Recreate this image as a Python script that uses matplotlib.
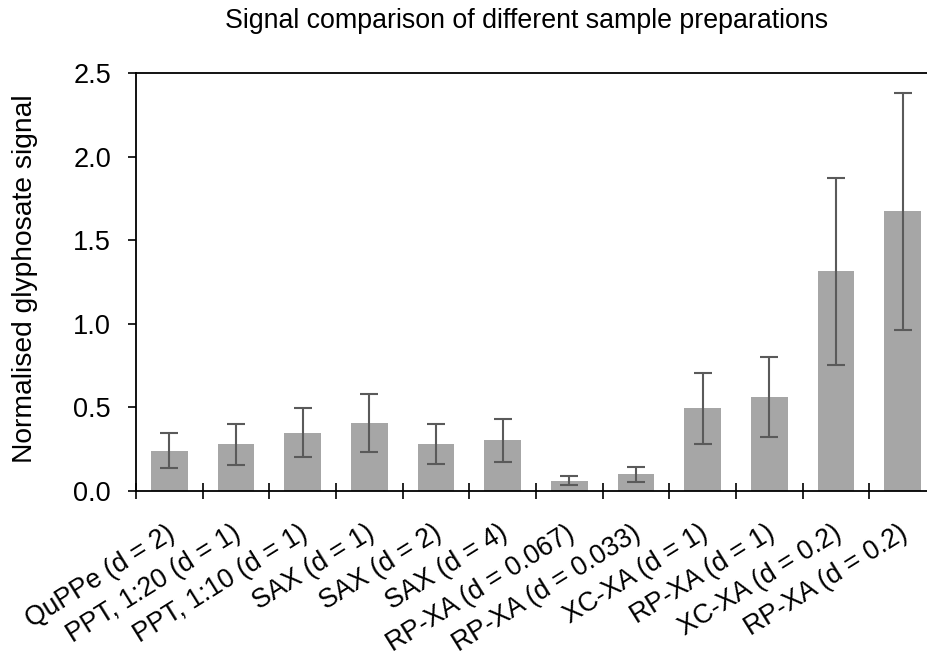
import matplotlib
matplotlib.use("Agg")
import matplotlib.pyplot as plt
import matplotlib.transforms as mtransforms
import numpy as np

plt.rcParams['font.family'] = ['Liberation Sans', 'DejaVu Sans']

categories = ["QuPPe (d = 2)", "PPT, 1:20 (d = 1)", "PPT, 1:10 (d = 1)", "SAX (d = 1)",
              "SAX (d = 2)", "SAX (d = 4)", "RP-XA (d = 0.067)", "RP-XA (d = 0.033)",
              "XC-XA (d = 1)", "RP-XA (d = 1)", "XC-XA (d = 0.2)", "RP-XA (d = 0.2)"]
values = [0.241, 0.279, 0.349, 0.407, 0.281, 0.303, 0.062, 0.100, 0.494, 0.560, 1.314, 1.673]
errors = [0.105, 0.121, 0.148, 0.172, 0.121, 0.128, 0.027, 0.044, 0.212, 0.239, 0.558, 0.710]
yticks = [0.0, 0.5, 1.0, 1.5, 2.0, 2.5]

W, H = 928, 661
fig = plt.figure(figsize=(W/100, H/100), dpi=100)
ax = fig.add_axes([136/W, 1-491/H, 800/W, (491-73)/H])

x = np.arange(len(categories))
ax.bar(x, values, width=0.55, color='#a6a6a6', zorder=2)
ax.errorbar(x, values, yerr=errors, fmt='none', ecolor='#5a5a5a', elinewidth=1.5,
            capsize=6.5, capthick=1.5, zorder=3)

ax.set_xlim(-0.5, len(categories)-0.5)
ax.set_ylim(0, 2.5)
ax.set_yticks(yticks)
ax.set_yticklabels([f"{v:.1f}" for v in yticks], fontsize=19.5)
ax.tick_params(axis='y', direction='out', length=6, width=1.2, pad=12)

ax.set_xticks(x)
ax.set_xticklabels(categories, rotation=32, ha='right', rotation_mode='anchor', fontsize=19.2)
ax.tick_params(axis='x', which='major', length=0, pad=21)
offset = mtransforms.ScaledTranslation(-4/100, 0, fig.dpi_scale_trans)
for lbl in ax.get_xticklabels():
    lbl.set_transform(lbl.get_transform() + offset)
ax.set_xticks(np.arange(len(categories)+1) - 0.5, minor=True)
ax.tick_params(axis='x', which='minor', direction='inout', length=12, width=1.2)

for s in ['left', 'bottom', 'top']:
    ax.spines[s].set_linewidth(1.3)
    ax.spines[s].set_color('black')
ax.spines['right'].set_visible(False)

ax.set_ylabel("Normalised glyphosate signal", fontsize=20.3)
ax.yaxis.set_label_coords(-0.1225, 0.507)

fig.text(527/W, 1-28.5/H, "Signal comparison of different sample preparations",
         ha='center', va='baseline', fontsize=19.3)

fig.savefig("out.png", dpi=100)
